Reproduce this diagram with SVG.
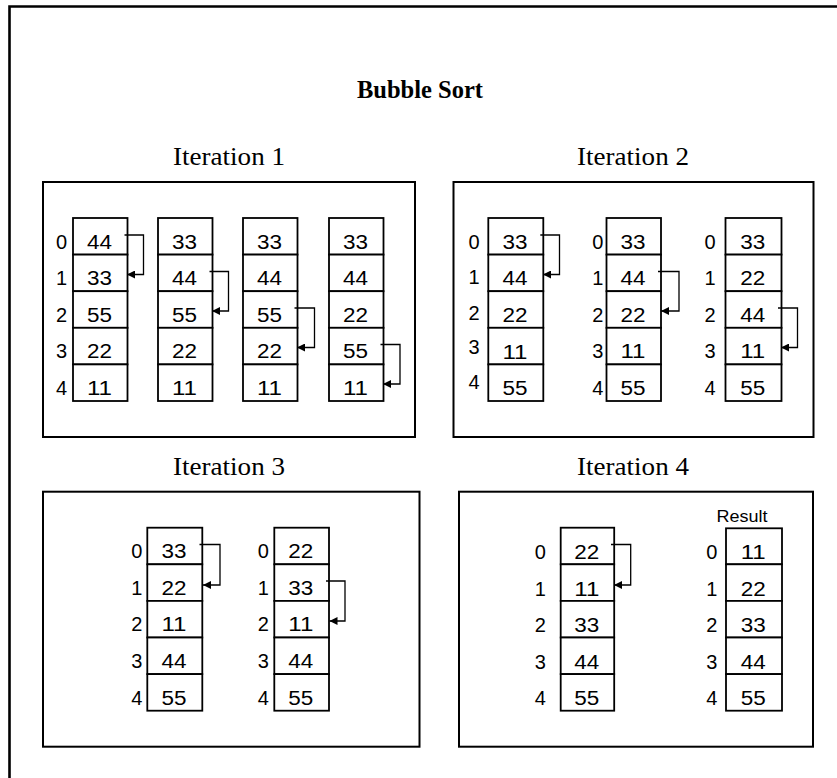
<svg xmlns="http://www.w3.org/2000/svg" width="837" height="778" viewBox="0 0 837 778">
<style>
.cell{fill:#fff;stroke:#000;stroke-width:1.8}
.panel{fill:none;stroke:#000;stroke-width:2}
.frame{fill:none;stroke:#000;stroke-width:2.6}
.v{font-family:"Liberation Sans",Arial,sans-serif;font-size:20.5px;text-anchor:middle;fill:#000}
.i{font-family:"Liberation Sans",Arial,sans-serif;font-size:20px;text-anchor:middle;fill:#000}
.t{font-family:"Liberation Serif","Times New Roman",serif;font-size:24.5px;text-anchor:middle;fill:#000}
.conn{fill:none;stroke:#000;stroke-width:1.3;marker-end:url(#ah)}
</style>
<defs>
<marker id="ah" markerWidth="9" markerHeight="8" refX="8" refY="4" orient="auto" markerUnits="userSpaceOnUse"><path d="M0,0 L8,4 L0,8 z" fill="#000"/></marker>
</defs>
<rect width="837" height="778" fill="#fff"/>
<path class="frame" d="M9.5,800 V6.5 H860"/>
<text id="title" class="t" x="420" y="98" font-weight="bold" style="font-size:25px" textLength="126" lengthAdjust="spacingAndGlyphs">Bubble Sort</text>

<g id="iteration1">
<text class="t" x="229" y="165" textLength="112" lengthAdjust="spacingAndGlyphs">Iteration 1</text>
<rect class="panel" x="43" y="182" width="372" height="255"/>
<g id="i1c1">
<rect class="cell" x="73" y="218" width="54.5" height="36.6"/><rect class="cell" x="73" y="254.6" width="54.5" height="36.6"/><rect class="cell" x="73" y="291.2" width="54.5" height="36.6"/><rect class="cell" x="73" y="327.8" width="54.5" height="36.6"/><rect class="cell" x="73" y="364.4" width="54.5" height="36.6"/>
<text class="i" x="61.5" y="248.5">0</text><text class="i" x="61.5" y="285">1</text><text class="i" x="61.5" y="321.7">2</text><text class="i" x="61.5" y="358.3">3</text><text class="i" x="61.5" y="394.9">4</text>
<text class="v" x="99.5" y="248.5" textLength="25" lengthAdjust="spacingAndGlyphs">44</text><text class="v" x="99.5" y="285" textLength="25" lengthAdjust="spacingAndGlyphs">33</text><text class="v" x="99.5" y="321.7" textLength="25" lengthAdjust="spacingAndGlyphs">55</text><text class="v" x="99.5" y="358.3" textLength="25" lengthAdjust="spacingAndGlyphs">22</text><text class="v" x="99.5" y="394.9" textLength="25" lengthAdjust="spacingAndGlyphs">11</text>
</g>
<g id="i1c2">
<rect class="cell" x="158" y="218" width="54.5" height="36.6"/><rect class="cell" x="158" y="254.6" width="54.5" height="36.6"/><rect class="cell" x="158" y="291.2" width="54.5" height="36.6"/><rect class="cell" x="158" y="327.8" width="54.5" height="36.6"/><rect class="cell" x="158" y="364.4" width="54.5" height="36.6"/>
<text class="v" x="184.5" y="248.5" textLength="25" lengthAdjust="spacingAndGlyphs">33</text><text class="v" x="184.5" y="285" textLength="25" lengthAdjust="spacingAndGlyphs">44</text><text class="v" x="184.5" y="321.7" textLength="25" lengthAdjust="spacingAndGlyphs">55</text><text class="v" x="184.5" y="358.3" textLength="25" lengthAdjust="spacingAndGlyphs">22</text><text class="v" x="184.5" y="394.9" textLength="25" lengthAdjust="spacingAndGlyphs">11</text>
</g>
<g id="i1c3">
<rect class="cell" x="243" y="218" width="54.5" height="36.6"/><rect class="cell" x="243" y="254.6" width="54.5" height="36.6"/><rect class="cell" x="243" y="291.2" width="54.5" height="36.6"/><rect class="cell" x="243" y="327.8" width="54.5" height="36.6"/><rect class="cell" x="243" y="364.4" width="54.5" height="36.6"/>
<text class="v" x="269.5" y="248.5" textLength="25" lengthAdjust="spacingAndGlyphs">33</text><text class="v" x="269.5" y="285" textLength="25" lengthAdjust="spacingAndGlyphs">44</text><text class="v" x="269.5" y="321.7" textLength="25" lengthAdjust="spacingAndGlyphs">55</text><text class="v" x="269.5" y="358.3" textLength="25" lengthAdjust="spacingAndGlyphs">22</text><text class="v" x="269.5" y="394.9" textLength="25" lengthAdjust="spacingAndGlyphs">11</text>
</g>
<g id="i1c4">
<rect class="cell" x="329" y="218" width="54.5" height="36.6"/><rect class="cell" x="329" y="254.6" width="54.5" height="36.6"/><rect class="cell" x="329" y="291.2" width="54.5" height="36.6"/><rect class="cell" x="329" y="327.8" width="54.5" height="36.6"/><rect class="cell" x="329" y="364.4" width="54.5" height="36.6"/>
<text class="v" x="355.5" y="248.5" textLength="25" lengthAdjust="spacingAndGlyphs">33</text><text class="v" x="355.5" y="285" textLength="25" lengthAdjust="spacingAndGlyphs">44</text><text class="v" x="355.5" y="321.7" textLength="25" lengthAdjust="spacingAndGlyphs">22</text><text class="v" x="355.5" y="358.3" textLength="25" lengthAdjust="spacingAndGlyphs">55</text><text class="v" x="355.5" y="394.9" textLength="25" lengthAdjust="spacingAndGlyphs">11</text>
</g>
</g>

<g id="iteration2">
<text class="t" x="633" y="165" textLength="112" lengthAdjust="spacingAndGlyphs">Iteration 2</text>
<rect class="panel" x="453.5" y="182" width="360" height="255"/>
<g id="i2c1">
<rect class="cell" x="488.3" y="218" width="55" height="36.6"/><rect class="cell" x="488.3" y="254.6" width="55" height="36.6"/><rect class="cell" x="488.3" y="291.2" width="55" height="36.6"/><rect class="cell" x="488.3" y="327.8" width="55" height="36.6"/><rect class="cell" x="488.3" y="364.4" width="55" height="36.6"/>
<text class="i" x="474" y="248.5">0</text><text class="i" x="474" y="284">1</text><text class="i" x="474" y="320.3">2</text><text class="i" x="474" y="353.6">3</text><text class="i" x="474" y="388.7">4</text>
<text class="v" x="515" y="248.5" textLength="25" lengthAdjust="spacingAndGlyphs">33</text><text class="v" x="515" y="285.3" textLength="25" lengthAdjust="spacingAndGlyphs">44</text><text class="v" x="515" y="322" textLength="25" lengthAdjust="spacingAndGlyphs">22</text><text class="v" x="515" y="358.6" textLength="25" lengthAdjust="spacingAndGlyphs">11</text><text class="v" x="515" y="395.3" textLength="25" lengthAdjust="spacingAndGlyphs">55</text>
</g>
<g id="i2c2">
<rect class="cell" x="606.5" y="218" width="54.5" height="36.6"/><rect class="cell" x="606.5" y="254.6" width="54.5" height="36.6"/><rect class="cell" x="606.5" y="291.2" width="54.5" height="36.6"/><rect class="cell" x="606.5" y="327.8" width="54.5" height="36.6"/><rect class="cell" x="606.5" y="364.4" width="54.5" height="36.6"/>
<text class="i" x="597.7" y="248.5">0</text><text class="i" x="597.7" y="285">1</text><text class="i" x="597.7" y="321.7">2</text><text class="i" x="597.7" y="358.3">3</text><text class="i" x="597.7" y="394.9">4</text>
<text class="v" x="633" y="248.5" textLength="25" lengthAdjust="spacingAndGlyphs">33</text><text class="v" x="633" y="285" textLength="25" lengthAdjust="spacingAndGlyphs">44</text><text class="v" x="633" y="321.7" textLength="25" lengthAdjust="spacingAndGlyphs">22</text><text class="v" x="633" y="358.3" textLength="25" lengthAdjust="spacingAndGlyphs">11</text><text class="v" x="633" y="394.9" textLength="25" lengthAdjust="spacingAndGlyphs">55</text>
</g>
<g id="i2c3">
<rect class="cell" x="725.5" y="218" width="56" height="36.6"/><rect class="cell" x="725.5" y="254.6" width="56" height="36.6"/><rect class="cell" x="725.5" y="291.2" width="56" height="36.6"/><rect class="cell" x="725.5" y="327.8" width="56" height="36.6"/><rect class="cell" x="725.5" y="364.4" width="56" height="36.6"/>
<text class="i" x="710" y="248.5">0</text><text class="i" x="710" y="285">1</text><text class="i" x="710" y="321.7">2</text><text class="i" x="710" y="358.3">3</text><text class="i" x="710" y="394.9">4</text>
<text class="v" x="752.7" y="248.5" textLength="25" lengthAdjust="spacingAndGlyphs">33</text><text class="v" x="752.7" y="285" textLength="25" lengthAdjust="spacingAndGlyphs">22</text><text class="v" x="752.7" y="321.7" textLength="25" lengthAdjust="spacingAndGlyphs">44</text><text class="v" x="752.7" y="358.3" textLength="25" lengthAdjust="spacingAndGlyphs">11</text><text class="v" x="752.7" y="394.9" textLength="25" lengthAdjust="spacingAndGlyphs">55</text>
</g>
</g>

<g id="iteration3">
<text class="t" x="229" y="475" textLength="112" lengthAdjust="spacingAndGlyphs">Iteration 3</text>
<rect class="panel" x="43" y="491.7" width="376.5" height="255"/>
<g id="i3c1">
<rect class="cell" x="147.3" y="527.7" width="55" height="36.6"/><rect class="cell" x="147.3" y="564.3" width="55" height="36.6"/><rect class="cell" x="147.3" y="600.9" width="55" height="36.6"/><rect class="cell" x="147.3" y="637.5" width="55" height="36.6"/><rect class="cell" x="147.3" y="674.1" width="55" height="36.6"/>
<text class="i" x="136.7" y="558.2">0</text><text class="i" x="136.7" y="594.8">1</text><text class="i" x="136.7" y="631.4">2</text><text class="i" x="136.7" y="668">3</text><text class="i" x="136.7" y="704.6">4</text>
<text class="v" x="174" y="558.2" textLength="25" lengthAdjust="spacingAndGlyphs">33</text><text class="v" x="174" y="594.8" textLength="25" lengthAdjust="spacingAndGlyphs">22</text><text class="v" x="174" y="631.4" textLength="25" lengthAdjust="spacingAndGlyphs">11</text><text class="v" x="174" y="668" textLength="25" lengthAdjust="spacingAndGlyphs">44</text><text class="v" x="174" y="704.6" textLength="25" lengthAdjust="spacingAndGlyphs">55</text>
</g>
<g id="i3c2">
<rect class="cell" x="274.3" y="527.7" width="54.7" height="36.6"/><rect class="cell" x="274.3" y="564.3" width="54.7" height="36.6"/><rect class="cell" x="274.3" y="600.9" width="54.7" height="36.6"/><rect class="cell" x="274.3" y="637.5" width="54.7" height="36.6"/><rect class="cell" x="274.3" y="674.1" width="54.7" height="36.6"/>
<text class="i" x="263.3" y="558.2">0</text><text class="i" x="263.3" y="594.8">1</text><text class="i" x="263.3" y="631.4">2</text><text class="i" x="263.3" y="668">3</text><text class="i" x="263.3" y="704.6">4</text>
<text class="v" x="300.8" y="558.2" textLength="25" lengthAdjust="spacingAndGlyphs">22</text><text class="v" x="300.8" y="594.8" textLength="25" lengthAdjust="spacingAndGlyphs">33</text><text class="v" x="300.8" y="631.4" textLength="25" lengthAdjust="spacingAndGlyphs">11</text><text class="v" x="300.8" y="668" textLength="25" lengthAdjust="spacingAndGlyphs">44</text><text class="v" x="300.8" y="704.6" textLength="25" lengthAdjust="spacingAndGlyphs">55</text>
</g>
</g>

<g id="iteration4">
<text class="t" x="633" y="475" textLength="112" lengthAdjust="spacingAndGlyphs">Iteration 4</text>
<rect class="panel" x="459" y="491.7" width="354" height="255"/>
<g id="i4c1">
<rect class="cell" x="560.7" y="527.7" width="53.5" height="36.6"/><rect class="cell" x="560.7" y="564.3" width="53.5" height="36.6"/><rect class="cell" x="560.7" y="600.9" width="53.5" height="36.6"/><rect class="cell" x="560.7" y="637.5" width="53.5" height="36.6"/><rect class="cell" x="560.7" y="674.1" width="53.5" height="36.6"/>
<text class="i" x="540.3" y="559">0</text><text class="i" x="540.3" y="595.5">1</text><text class="i" x="540.3" y="632">2</text><text class="i" x="540.3" y="668.5">3</text><text class="i" x="540.3" y="705">4</text>
<text class="v" x="586.8" y="559" textLength="25" lengthAdjust="spacingAndGlyphs">22</text><text class="v" x="586.8" y="595.5" textLength="25" lengthAdjust="spacingAndGlyphs">11</text><text class="v" x="586.8" y="632" textLength="25" lengthAdjust="spacingAndGlyphs">33</text><text class="v" x="586.8" y="668.5" textLength="25" lengthAdjust="spacingAndGlyphs">44</text><text class="v" x="586.8" y="705" textLength="25" lengthAdjust="spacingAndGlyphs">55</text>
</g>
<g id="i4c2">
<text class="v" x="742" y="522" style="font-size:16px" textLength="51" lengthAdjust="spacingAndGlyphs">Result</text>
<rect class="cell" x="726" y="528.3" width="56" height="36"/><rect class="cell" x="726" y="564.3" width="56" height="36.6"/><rect class="cell" x="726" y="600.9" width="56" height="36.6"/><rect class="cell" x="726" y="637.5" width="56" height="36.6"/><rect class="cell" x="726" y="674.1" width="56" height="36.6"/>
<text class="i" x="711.7" y="559">0</text><text class="i" x="711.7" y="595.5">1</text><text class="i" x="711.7" y="632">2</text><text class="i" x="711.7" y="668.5">3</text><text class="i" x="711.7" y="705">4</text>
<text class="v" x="753.2" y="559" textLength="25" lengthAdjust="spacingAndGlyphs">11</text><text class="v" x="753.2" y="595.5" textLength="25" lengthAdjust="spacingAndGlyphs">22</text><text class="v" x="753.2" y="632" textLength="25" lengthAdjust="spacingAndGlyphs">33</text><text class="v" x="753.2" y="668.5" textLength="25" lengthAdjust="spacingAndGlyphs">44</text><text class="v" x="753.2" y="705" textLength="25" lengthAdjust="spacingAndGlyphs">55</text>
</g>
</g>

<g id="connectors">
<path class="conn" d="M124.5,235 H143.5 V274.5 H127"/>
<path class="conn" d="M209.5,271.5 H228.5 V311 H212"/>
<path class="conn" d="M294.5,308 H314.5 V347.5 H297"/>
<path class="conn" d="M380.5,344.5 H400 V384 H383"/>
<path class="conn" d="M540.3,235 H559.5 V274.5 H543"/>
<path class="conn" d="M658,271.5 H679 V311 H661"/>
<path class="conn" d="M778,308 H797.5 V347.5 H781"/>
<path class="conn" d="M199.5,544.5 H220 V585 H203"/>
<path class="conn" d="M326,581 H345 V621 H329.5"/>
<path class="conn" d="M611,544.5 H630.7 V585 H614"/>
</g>
</svg>
